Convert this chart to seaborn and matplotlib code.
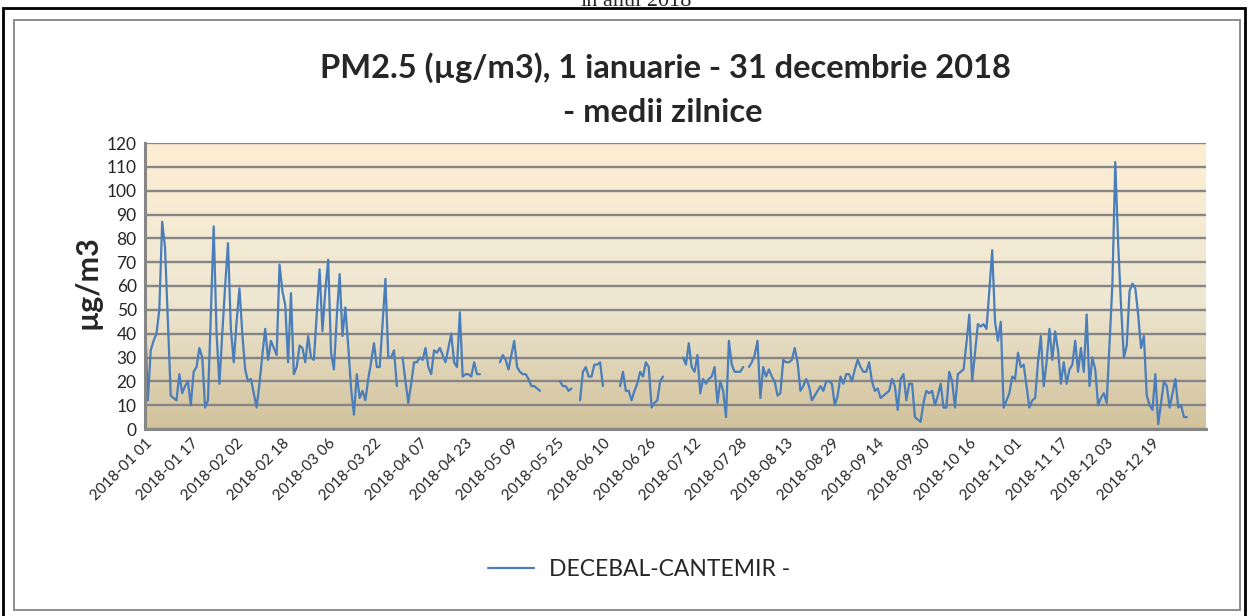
import numpy as np
import pandas as pd
import matplotlib
matplotlib.use("Agg")
import matplotlib.pyplot as plt
from matplotlib.patches import Rectangle
from matplotlib.lines import Line2D
from matplotlib.colors import LinearSegmentedColormap
import seaborn as sns

# -------------------------------
# Daily PM2.5 means, 2018 (None = missing day)
# -------------------------------
jan = [47, 12, 33, 37, 40, 50, 87, 76, 45, 14, 13, 12, 23, 15, 18, 20, 10, 24, 26, 34,
       30, 9, 12, 48, 85, 40, 19, 40, 60, 78, 42]
feb = [28, 45, 59, 40, 25, 20, 21, 15, 9, 19, 31, 42, 29, 37, 34, 31, 69, 58, 52, 28,
       57, 23, 26, 35, 34, 28, 39, 30]
mar = [29, 48, 67, 41, 58, 71, 32, 25, 47, 65, 39, 51, 35, 17, 6, 23, 13, 16, 12, 21,
       28, 36, 26, 26, 44, 63, 30, 30, 33, 18, None]
apr = [30, 20, 11, 19, 28, 28, 30, 29, 34, 26, 23, 33, 32, 34, 31, 28, 34, 40, 28, 26,
       49, 22, 23, 23, 22, 28, 23, 23, None, None]
may = [None, None, None, None, 28, 31, 29, 25, 31, 37, 26, 24, 23, 23, 21, 18, 18, 17, 16,
       None, None, None, None, None, None, 20, 18, 18, 16, 17, None]
jun = [None, 12, 24, 26, 22, 22, 27, 27, 28, 18, None, None, None, None, None, 18, 24, 16,
       16, 12, 16, 19, 24, 22, 28, 26, 9, 11, 12, 20]
jul = [22, None, None, None, None, None, None, 30, 27, 36, 26, 24, 31, 15, 21, 19, 21, 22,
       26, 11, 20, 16, 5, 37, 27, 24, 24, 24, 26, None, 26]
aug = [28, 31, 37, 13, 26, 22, 25, 22, 20, 14, 15, 29, 28, 28, 29, 34, 28, 16, 18, 21,
       18, 12, 14, 16, 18, 16, 20, 20, 19, 10, 14]
sep = [22, 19, 23, 23, 20, 25, 29, 26, 24, 24, 28, 20, 16, 17, 13, 14, 15, 16, 21, 18,
       8, 21, 23, 12, 19, 19, 5, 4, 3, 11]
oct_ = [16, 15, 16, 10, 14, 19, 9, 9, 24, 20, 9, 23, 24, 25, 36, 48, 20, 32, 44, 43,
        44, 42, 58, 75, 45, 37, 45, 9, 12, 15, 22]
nov = [21, 32, 26, 27, 18, 9, 12, 13, 28, 39, 18, 28, 42, 29, 41, 33, 19, 28, 19, 25,
       27, 37, 24, 34, 24, 48, 18, 30, 25, 10]
dec = [13, 15, 11, 36, 61, 112, 78, 52, 30, 35, 58, 61, 59, 48, 34, 39, 14, 10, 8, 23,
       2, 11, 20, 18, 9, 15, 21, 9, 10, 5, 5]

station = "DECEBAL-CANTEMIR -"
title_lines = ["PM2.5 (\u00b5g/m3), 1 ianuarie - 31 decembrie 2018", "- medii zilnice"]
y_label = "\u00b5g/m3"
y_ticks = list(range(0, 121, 10))

line_color = "#4A7EBB"
grid_color = "#868686"

# -------------------------------
# Build the frame
# -------------------------------
values = jan + feb + mar + apr + may + jun + jul + aug + sep + oct_ + nov + dec
dates = pd.date_range("2018-01-01", "2018-12-31", freq="D")
df = pd.DataFrame({"date": dates, "pm25": pd.Series(values, dtype=float)})
df["seg"] = df["pm25"].isna().cumsum()  # break the line at missing days
df = df.dropna()

sns.set_theme(style="white")
plt.rcParams['font.family'] = ['Lato', 'DejaVu Sans']

W, H = 1248, 616
fig = plt.figure(figsize=(W / 100, H / 100), dpi=100)
rect = [145 / W, 1 - 429 / H, (1206 - 145) / W, (429 - 143) / H]

# gradient plot background
bg = fig.add_axes(rect, zorder=0)
cmap = LinearSegmentedColormap.from_list(
    "parchment", [(0, "#D2C29C"), (0.45, "#EEE7D2"), (1, "#FDEED3")])
bg.imshow(np.linspace(0, 1, 256).reshape(-1, 1), aspect="auto", cmap=cmap,
          origin="lower", extent=[0, 1, 0, 1])
bg.axis("off")

ax = fig.add_axes(rect, zorder=1)
ax.set_facecolor("none")

sns.lineplot(data=df, x="date", y="pm25", units="seg", estimator=None,
             color=line_color, linewidth=1.6, ax=ax, legend=False)

ax.set_ylim(0, 120)
ax.set_yticks(y_ticks)
ax.set_xlim(dates[0], dates[0] + pd.Timedelta(days=370.7))
xt = pd.date_range("2018-01-01", "2018-12-31", freq="16D")
ax.set_xticks(xt)
ax.set_xticklabels([d.strftime("%Y-%m %d") for d in xt], rotation=45,
                   ha="right", va="top", rotation_mode="anchor", fontsize=11)
ax.tick_params(axis="y", labelsize=12.5, length=0, pad=6)
ax.tick_params(axis="x", length=0, pad=5)
ax.yaxis.grid(True, color=grid_color, linewidth=1.7)
ax.xaxis.grid(False)
for s in ["top", "right"]:
    ax.spines[s].set_visible(False)
for s in ["left", "bottom"]:
    ax.spines[s].set_color(grid_color)
    ax.spines[s].set_linewidth(2.2)
ax.set_xlabel("")
ax.set_ylabel("")

# texts
fig.text(87 / W, 1 - 282 / H, y_label, rotation=90, ha="center", va="center",
         fontsize=22, fontweight="bold")
fig.text(665 / W, 1 - 68 / H, title_lines[0], ha="center", va="center",
         fontsize=23.5, fontweight="bold")
fig.text(663 / W, 1 - 112 / H, title_lines[1], ha="center", va="center",
         fontsize=23.5, fontweight="bold")
fig.text(636 / W, 1 - 6 / H, "\u00een anul 2018", ha="center", va="baseline",
         fontsize=16, family="Liberation Serif")

# legend
handle = Line2D([0], [0], color=line_color, linewidth=1.6)
fig.legend(handles=[handle], labels=[station], loc="center",
           bbox_to_anchor=(639 / W, 1 - 570 / H), frameon=False, fontsize=16.5,
           handlelength=2.05, handletextpad=0.65)

# frames
fig.add_artist(Rectangle((3 / W, -0.01), (1245 - 3) / W, 1 - 8 / H + 0.01,
                         transform=fig.transFigure, fill=False,
                         edgecolor="black", linewidth=2))
fig.add_artist(Rectangle((14 / W, 1 - 610 / H), (1240 - 14) / W, (610 - 20) / H,
                         transform=fig.transFigure, fill=False,
                         edgecolor="#8C8C8C", linewidth=1.4))

fig.savefig("out.png", dpi=100)
